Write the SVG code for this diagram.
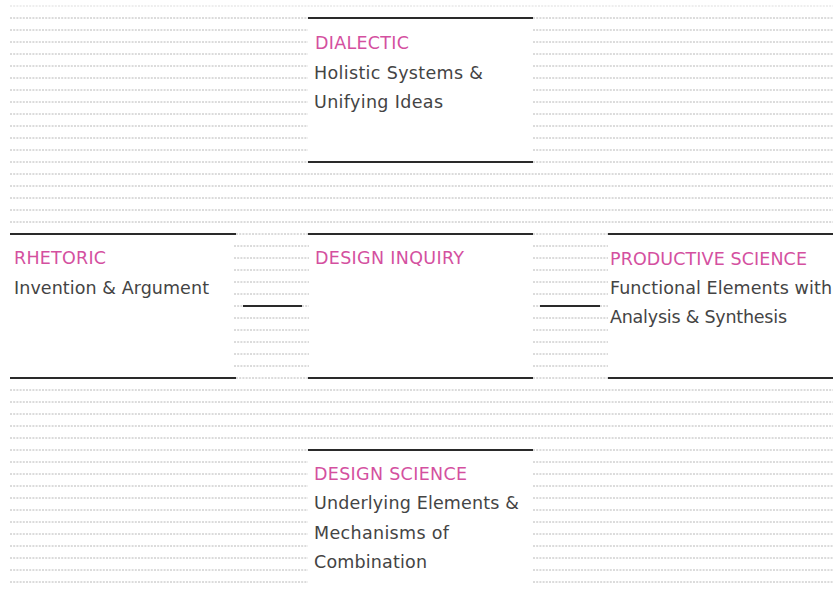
<svg xmlns="http://www.w3.org/2000/svg" width="835" height="590" viewBox="0 0 835 590">
<style>
.dot{stroke:#b8b8b8;stroke-width:1;stroke-dasharray:2 1.2;fill:none}
.faint{stroke:#dddddd;stroke-width:1;stroke-dasharray:2 1.2;fill:none}
.rule{stroke:#2a2a2a;stroke-width:2.2;fill:none}
.t{font-family:"DejaVu Sans","Liberation Sans",sans-serif;font-size:17.5px}
.h{fill:#d4509f}
.b{fill:#444444}
</style>
<rect width="835" height="590" fill="#ffffff"/>
<g id="texture">
<line class="faint" x1="10" y1="6" x2="833" y2="6"/>
<path class="dot" d="M10 18H308M533 18H833M10 30H308M533 30H833M10 42H308M533 42H833M10 54H308M533 54H833M10 66H308M533 66H833M10 78H308M533 78H833M10 90H308M533 90H833M10 102H308M533 102H833M10 114H308M533 114H833M10 126H308M533 126H833M10 138H308M533 138H833M10 150H308M533 150H833M10 162H308M533 162H833"/>
<path class="dot" d="M10 174H833M10 186H833M10 198H833M10 210H833M10 222H833"/>
<path class="dot" d="M236 234H308M533 234H608"/>
<path class="dot" d="M234 246H309M533 246H608M234 258H309M533 258H608M234 270H309M533 270H608M234 282H309M533 282H608M234 294H309M533 294H608M234 306H243M302 306H309M533 306H540M600 306H608M234 318H309M533 318H608M234 330H309M533 330H608M234 342H309M533 342H608M234 354H309M533 354H608M234 366H309M533 366H608"/>
<path class="dot" d="M236 378H308M533 378H608"/>
<path class="dot" d="M10 390H833M10 402H833M10 414H833M10 426H833M10 438H833"/>
<path class="dot" d="M10 450H308M533 450H833M10 462H308M533 462H833M10 474H308M533 474H833M10 486H308M533 486H833M10 498H308M533 498H833M10 510H308M533 510H833M10 522H308M533 522H833M10 534H308M533 534H833M10 546H308M533 546H833M10 558H308M533 558H833M10 570H308M533 570H833M10 582H308M533 582H833"/>
</g>
<g id="dialectic">
<path class="rule" d="M308 18H533M308 162H533"/>
<text class="t h" x="315" y="49" textLength="94">DIALECTIC</text>
<text class="t b" x="314" y="79" textLength="169">Holistic Systems &amp;</text>
<text class="t b" x="314" y="108" textLength="129">Unifying Ideas</text>
</g>
<g id="rhetoric">
<path class="rule" d="M10 234H236M10 378H236"/>
<text class="t h" x="14" y="264" textLength="92">RHETORIC</text>
<text class="t b" x="14" y="294" textLength="195">Invention &amp; Argument</text>
</g>
<g id="design-inquiry">
<path class="rule" d="M308 234H533M308 378H533"/>
<text class="t h" x="315" y="264" textLength="149">DESIGN INQUIRY</text>
</g>
<g id="productive-science">
<path class="rule" d="M608 234H833M608 378H833"/>
<text class="t h" x="610" y="265" textLength="197">PRODUCTIVE SCIENCE</text>
<text class="t b" x="610" y="294" textLength="222">Functional Elements with</text>
<text class="t b" x="610" y="323" textLength="177">Analysis &amp; Synthesis</text>
</g>
<g id="design-science">
<path class="rule" d="M308 450H533"/>
<text class="t h" x="314" y="480" textLength="153">DESIGN SCIENCE</text>
<text class="t b" x="314" y="509" textLength="205">Underlying Elements &amp;</text>
<text class="t b" x="314" y="539" textLength="135">Mechanisms of</text>
<text class="t b" x="314" y="568" textLength="113">Combination</text>
</g>
<g id="connectors">
<path class="rule" d="M243 306H302M540 306H600"/>
</g>
</svg>
